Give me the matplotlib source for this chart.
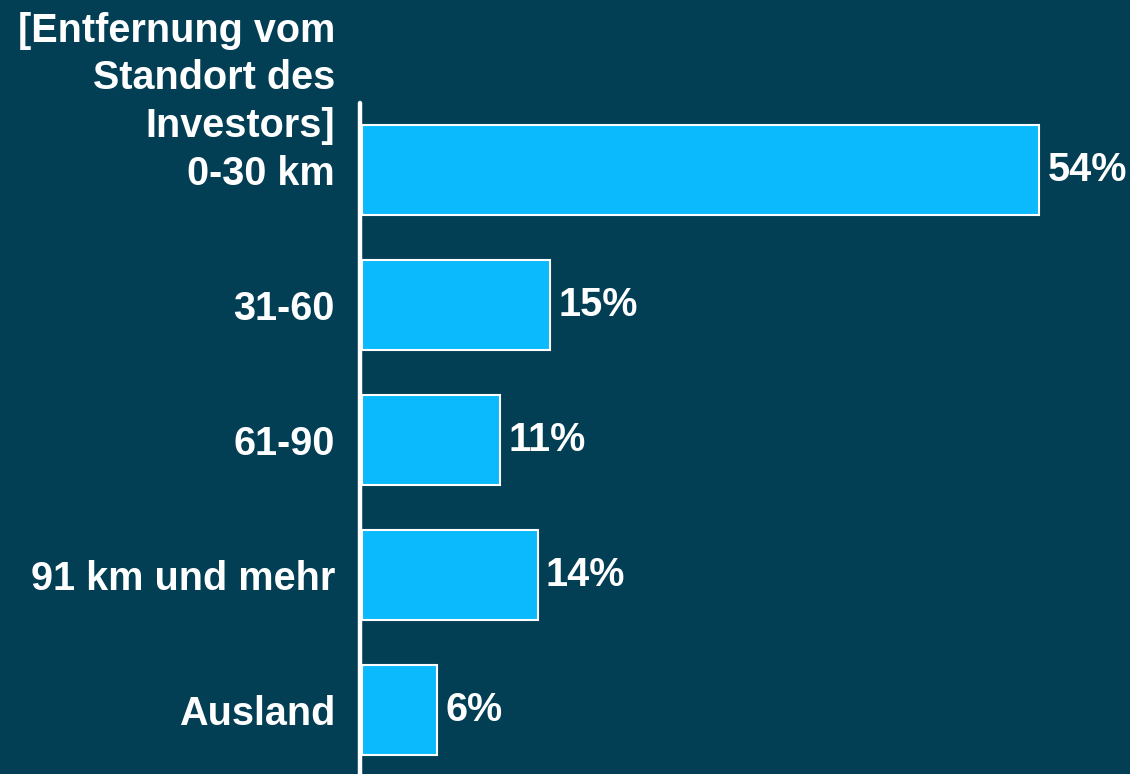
import matplotlib.pyplot as plt
from matplotlib import font_manager as fm

categories = ["0-30 km", "31-60", "61-90", "91 km und mehr", "Ausland"]
values = [54, 15, 11, 14, 6]
header = "[Entfernung vom\nStandort des\nInvestors]"

bg = "#023f55"
bar_color = "#0bbafd"

# pick the regular-width Liberation Sans Bold (not the Narrow variant)
bold_file = None
for f in fm.findSystemFonts():
    if f.endswith("LiberationSans-Bold.ttf"):
        bold_file = f
        break
if bold_file:
    fm.fontManager.addfont(bold_file)
    font = fm.FontProperties(fname=bold_file, size=28.5)
else:
    font = fm.FontProperties(family="DejaVu Sans", weight="bold", size=26)

fig = plt.figure(figsize=(11.3, 7.74), dpi=100, facecolor=bg)
W, H = 1130, 774
ax = fig.add_axes([362 / W, 0, (1039 - 362) / W, 1 - 103 / H])
ax.set_facecolor(bg)

ypos = list(range(len(categories)))
ax.barh(ypos, values, height=0.667, color=bar_color, edgecolor="white",
        linewidth=1.5, clip_on=False)

ax.set_xlim(0, 54)
ax.set_ylim(4.474, -0.496)

for spine in ["top", "right", "bottom"]:
    ax.spines[spine].set_visible(False)
ax.spines["left"].set_color("white")
ax.spines["left"].set_linewidth(3.2)
ax.spines["left"].set_capstyle("round")
ax.spines["left"].set_position(("outward", 1.5))

ax.set_xticks([])
ax.set_yticks(ypos)
ax.set_yticklabels(categories, fontproperties=font, color="white")
ax.tick_params(axis="y", length=0, pad=18)

for y, v in zip(ypos, values):
    ax.annotate(f"{v}%", xy=(v, y), xytext=(6, 0), textcoords="offset points",
                ha="left", va="center", fontproperties=font,
                color="white", annotation_clip=False)

fig.text(335 / W, 1 - 145 / H, header, ha="right", va="bottom",
         fontproperties=font, color="white", linespacing=1.32)

fig.savefig("out.png", dpi=100, facecolor=bg)
